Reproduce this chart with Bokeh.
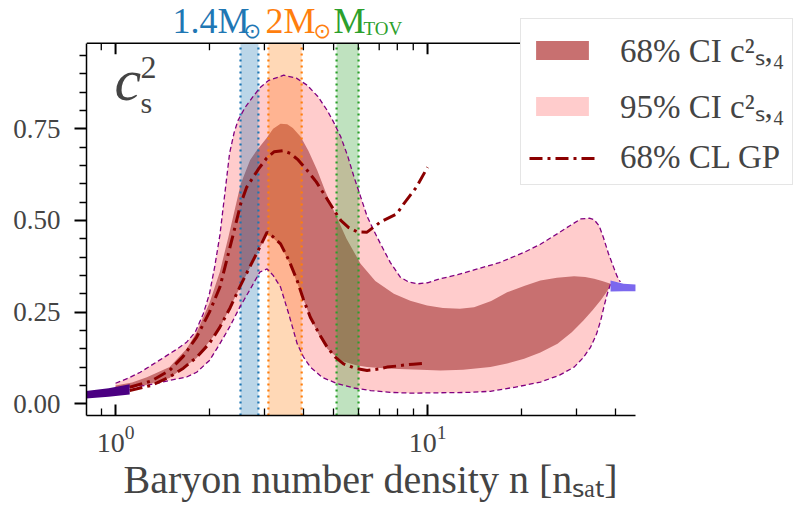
from bokeh.plotting import figure
from bokeh.models import (FixedTicker, LogTickFormatter, PrintfTickFormatter,
                          Legend, LegendItem, Label, BoxAnnotation)
from bokeh.embed import file_html
from bokeh.resources import INLINE

# ---------------- data ----------------
ci95_up_n = [1.00, 1.10, 1.20, 1.32, 1.45, 1.58, 1.69, 1.80, 1.91, 2.00, 2.08, 2.16, 2.24, 2.32,
             2.40, 2.47, 2.60, 2.75, 2.90, 3.10, 3.46, 3.80, 4.11, 4.45, 4.77, 5.00, 5.27, 5.55,
             5.81, 6.10, 6.41, 6.75, 7.07, 7.60, 8.19, 8.70, 9.27, 10.0, 11.0, 12.5, 14.1, 17.0,
             20.4, 23.0, 26.1, 28.5, 31.0, 33.0, 34.2, 35.5, 36.6, 38.0, 39.5, 40.5, 41.5]
ci95_up_c = [0.056, 0.070, 0.086, 0.108, 0.130, 0.150, 0.168, 0.195, 0.245, 0.300, 0.375, 0.460,
             0.573, 0.683, 0.740, 0.773, 0.808, 0.836, 0.862, 0.882, 0.896, 0.888, 0.869, 0.838,
             0.800, 0.768, 0.728, 0.675, 0.619, 0.565, 0.510, 0.470, 0.436, 0.385, 0.345, 0.332,
             0.327, 0.330, 0.341, 0.352, 0.365, 0.385, 0.413, 0.435, 0.464, 0.485, 0.504, 0.506,
             0.502, 0.485, 0.454, 0.410, 0.372, 0.348, 0.332]

ci95_lo_n = [1.00, 1.13, 1.26, 1.46, 1.69, 1.82, 2.00, 2.16, 2.33, 2.50, 2.70, 2.90, 3.06, 3.20,
             3.38, 3.59, 3.82, 4.00, 4.21, 4.60, 5.13, 5.80, 6.57, 7.60, 8.84, 11.0, 13.5, 15.9,
             19.0, 23.0, 26.5, 29.5, 31.5, 33.3, 34.8, 35.9, 36.9, 37.7, 38.6]
ci95_lo_c = [0.042, 0.046, 0.050, 0.062, 0.073, 0.086, 0.118, 0.164, 0.212, 0.263, 0.312, 0.359,
             0.368, 0.350, 0.318, 0.245, 0.164, 0.128, 0.100, 0.072, 0.055, 0.043, 0.036, 0.031,
             0.029, 0.030, 0.031, 0.034, 0.045, 0.059, 0.078, 0.100, 0.125, 0.154, 0.190, 0.227,
             0.270, 0.300, 0.327]

ci68_up_n = [1.00, 1.13, 1.26, 1.49, 1.69, 1.82, 2.00, 2.16, 2.30, 2.52, 2.70, 2.83, 3.05, 3.20,
             3.38, 3.55, 3.70, 3.92, 4.15, 4.43, 4.70, 5.00, 5.50, 6.10, 6.80, 7.80, 8.80, 9.97,
             11.2, 12.7, 14.1, 16.0, 18.0, 20.5, 23.0, 26.0, 29.5, 32.0, 34.2, 36.5, 38.6]
ci68_up_c = [0.050, 0.058, 0.072, 0.100, 0.150, 0.195, 0.275, 0.360, 0.455, 0.600, 0.665, 0.690,
             0.725, 0.750, 0.764, 0.762, 0.752, 0.728, 0.690, 0.637, 0.580, 0.528, 0.450, 0.382,
             0.335, 0.300, 0.281, 0.268, 0.261, 0.259, 0.263, 0.280, 0.304, 0.322, 0.336, 0.344,
             0.348, 0.346, 0.341, 0.334, 0.327]

ci68_lo_n = [1.00, 1.13, 1.26, 1.49, 1.82, 2.16, 2.50, 2.90, 3.06, 3.20, 3.38, 3.60, 3.82, 4.00,
             4.21, 4.50, 4.77, 5.10, 5.38, 5.90, 6.40, 7.40, 8.50, 9.50, 11.0, 13.0, 15.9, 18.0,
             20.4, 23.0, 26.1, 29.0, 31.6, 33.8, 35.9, 37.5, 38.6]
ci68_lo_c = [0.042, 0.044, 0.052, 0.070, 0.125, 0.207, 0.316, 0.425, 0.462, 0.452, 0.432, 0.385,
             0.330, 0.285, 0.235, 0.185, 0.150, 0.128, 0.115, 0.105, 0.100, 0.096, 0.094, 0.093,
             0.091, 0.093, 0.100, 0.110, 0.123, 0.140, 0.164, 0.195, 0.227, 0.255, 0.282, 0.305,
             0.323]

gp_up_n = [1.11, 1.30, 1.49, 1.65, 1.82, 2.00, 2.16, 2.38, 2.52, 2.63, 2.87, 3.05, 3.22, 3.45,
           3.63, 3.85, 4.11, 4.40, 4.65, 5.00, 5.27, 5.60, 5.95, 6.40, 7.07, 7.97, 8.40, 9.20, 10.0]
gp_up_c = [0.045, 0.062, 0.091, 0.130, 0.182, 0.250, 0.318, 0.460, 0.546, 0.590, 0.640, 0.670,
           0.687, 0.690, 0.683, 0.665, 0.637, 0.605, 0.573, 0.530, 0.500, 0.480, 0.469, 0.468,
           0.496, 0.518, 0.546, 0.590, 0.645]

gp_lo_n = [1.11, 1.30, 1.49, 1.65, 1.82, 2.00, 2.16, 2.33, 2.50, 2.70, 2.90, 3.06, 3.20, 3.38,
           3.60, 3.82, 4.00, 4.21, 4.50, 4.77, 5.05, 5.38, 5.90, 6.40, 7.00, 7.41, 8.00, 8.50,
           9.00, 9.70]
gp_lo_c = [0.036, 0.050, 0.073, 0.097, 0.127, 0.165, 0.209, 0.262, 0.318, 0.375, 0.427, 0.468,
           0.455, 0.436, 0.390, 0.336, 0.285, 0.236, 0.190, 0.154, 0.128, 0.109, 0.096, 0.091,
           0.095, 0.100, 0.103, 0.106, 0.108, 0.110]

cheft_n = [0.75, 0.95, 1.11]
cheft_lo = [0.012, 0.019, 0.025]
cheft_hi = [0.032, 0.042, 0.053]

pqcd_n = [38.6, 42.5, 46.4]
pqcd_lo = [0.306, 0.307, 0.307]
pqcd_hi = [0.336, 0.327, 0.325]

mass_labels = ["1.4M", "2M", "M"]
mass_lo = [2.515, 3.09, 5.11]
mass_hi = [2.87, 3.95, 6.01]
mass_colors = ["#1f77b4", "#ff7f0e", "#2ca02c"]

x_major_ticks = [1, 10]
x_minor_ticks = [0.8, 0.9, 2, 3, 4, 5, 6, 7, 8, 9, 20, 30, 40]
y_major_ticks = [0.0, 0.25, 0.5, 0.75]
y_minor_ticks = [0.05, 0.10, 0.15, 0.20, 0.30, 0.35, 0.40, 0.45, 0.55, 0.60, 0.65, 0.70,
                 0.80, 0.85, 0.90, 0.95]

legend_labels = ["68% CI c²ₛ,₄", "95% CI c²ₛ,₄", "68% CL GP"]
x_label = "Baryon number density n [nₛₐₜ]"

# axes limits of the drawn box
x_lo, x_hi = 0.807, 46.4
y_lo, y_hi = -0.032, 0.983

# ---------------- figure ----------------
FONT = "Liberation Serif"


def px_n(px):
    return 10 ** ((px - 115.0) / 312.0)


def py_c(py):
    return (403.3 - py) / 366.7


# the frame spans the whole canvas above/right so texts outside the box are not clipped
p = figure(width=794, height=505, x_axis_type="log", x_range=(x_lo, px_n(794)),
           y_range=(y_lo, py_c(0)), output_backend="svg", toolbar_location=None,
           min_border_left=86, min_border_right=0, min_border_top=0, min_border_bottom=90)
p.outline_line_color = None
p.grid.visible = False
p.background_fill_color = "white"
p.border_fill_color = "white"

# 95% band
r95 = p.patch(x=ci95_up_n + ci95_lo_n[::-1], y=ci95_up_c + ci95_lo_c[::-1],
              fill_color="#ffcccc", line_color=None, level="image")
# 68% band
r68 = p.patch(x=ci68_up_n + ci68_lo_n[::-1], y=ci68_up_c + ci68_lo_c[::-1],
              fill_color="#c87070", line_color=None, level="image")

# mass bands
for lo, hi, col in zip(mass_lo, mass_hi, mass_colors):
    p.add_layout(BoxAnnotation(left=lo, right=hi, bottom=y_lo, top=y_hi, fill_color=col,
                               fill_alpha=0.3, line_color=None, level="underlay"))
    p.segment(x0=[lo, hi], y0=[y_lo, y_lo], x1=[lo, hi], y1=[y_hi, y_hi], line_color=col,
              line_width=2.2, line_dash="2 4", level="underlay")

# 95% outline
p.line(ci95_up_n, ci95_up_c, line_color="purple", line_width=1.3, line_dash="5 3")
p.line(ci95_lo_n, ci95_lo_c, line_color="purple", line_width=1.3, line_dash="5 3")

# GP lines
rgp = p.line(gp_up_n, gp_up_c, line_color="#8b0000", line_width=3, line_dash="13 5 3 5")
p.line(gp_lo_n, gp_lo_c, line_color="#8b0000", line_width=3, line_dash="13 5 3 5")

# chEFT and pQCD bands
p.varea(x=cheft_n, y1=cheft_lo, y2=cheft_hi, fill_color="#4b0082")
p.varea(x=pqcd_n, y1=pqcd_lo, y2=pqcd_hi, fill_color="#7b68ee")

# ---------------- axes ----------------
xa = p.xaxis[0]
xa.ticker = FixedTicker(ticks=x_major_ticks, minor_ticks=x_minor_ticks)
xa.formatter = LogTickFormatter()
xa.bounds = (x_lo, x_hi)
xa.major_tick_in = 11
xa.major_tick_out = 0
xa.minor_tick_in = 7
xa.minor_tick_out = 0
xa.axis_line_width = 1.5
xa.major_tick_line_width = 2
xa.minor_tick_line_width = 1.3
xa.major_label_text_font = FONT
xa.major_label_text_font_size = "28px"
xa.major_label_standoff = 10
# trailing no-break spaces shift the centred label left, under the drawn box
xa.axis_label = x_label + "\u00a0" * 14
xa.axis_label_text_font = FONT
xa.axis_label_text_font_size = "40px"
xa.axis_label_text_font_style = "normal"
xa.axis_label_standoff = 2

ya = p.yaxis[0]
ya.ticker = FixedTicker(ticks=y_major_ticks, minor_ticks=y_minor_ticks)
ya.formatter = PrintfTickFormatter(format="%.2f")
ya.bounds = (y_lo, y_hi)
ya.major_tick_in = 0
ya.major_tick_out = 12
ya.minor_tick_in = 0
ya.minor_tick_out = 7
ya.axis_line_width = 1.5
ya.major_tick_line_width = 2
ya.minor_tick_line_width = 1.3
ya.major_label_text_font = FONT
ya.major_label_text_font_size = "27px"
ya.major_label_standoff = 14

# top spine with inward ticks
p.segment(x0=[x_lo], y0=[y_hi], x1=[x_hi], y1=[y_hi], line_color="black", line_width=1.5)
p.segment(x0=x_major_ticks, y0=[y_hi] * len(x_major_ticks), x1=x_major_ticks,
          y1=[y_hi - 11 / 366.7] * len(x_major_ticks), line_color="black", line_width=2)
p.segment(x0=x_minor_ticks, y0=[y_hi] * len(x_minor_ticks), x1=x_minor_ticks,
          y1=[y_hi - 7 / 366.7] * len(x_minor_ticks), line_color="black", line_width=1.3)

# ---------------- labels ----------------
p.add_layout(Label(x=px_n(114), y=py_c(80), text="c", text_font=FONT, text_font_style="italic",
                   text_font_size="60px", text_baseline="middle"))
p.add_layout(Label(x=px_n(140), y=py_c(67), text="2", text_font=FONT,
                   text_font_size="32px", text_baseline="middle"))
p.add_layout(Label(x=px_n(140), y=py_c(102), text="s", text_font=FONT,
                   text_font_size="30px", text_baseline="middle"))

label_px = [172, 265, 333]
sub_px = [243, 313, 363]
subs = ["⊙", "⊙", "TOV"]
for txt, x0, xs, sub, col in zip(mass_labels, label_px, sub_px, subs, mass_colors):
    p.add_layout(Label(x=px_n(x0), y=py_c(21), text=txt, text_font=FONT, text_font_size="36px",
                       text_color=col, text_baseline="middle"))
    if sub == "TOV":
        p.add_layout(Label(x=px_n(xs), y=py_c(28), text=sub, text_font=FONT, text_font_size="19px",
                           text_color=col, text_baseline="middle"))
    else:
        p.add_layout(Label(x=px_n(xs), y=py_c(31), text=sub, text_font="DejaVu Sans",
                           text_font_size="21px", text_color=col, text_baseline="middle"))

# ---------------- legend ----------------
legend = Legend(items=[LegendItem(label=legend_labels[0], renderers=[r68]),
                       LegendItem(label=legend_labels[1], renderers=[r95]),
                       LegendItem(label=legend_labels[2], renderers=[rgp])],
                location=(434, 230), margin=0, padding=8, spacing=11,
                glyph_width=66, glyph_height=24, label_standoff=25, label_height=36,
                label_text_font=FONT, label_text_font_size="33px",
                border_line_color="#cccccc", border_line_width=1.5,
                background_fill_color="white", background_fill_alpha=1.0)
p.add_layout(legend)

open("out.html", "w").write(file_html(p, INLINE))
